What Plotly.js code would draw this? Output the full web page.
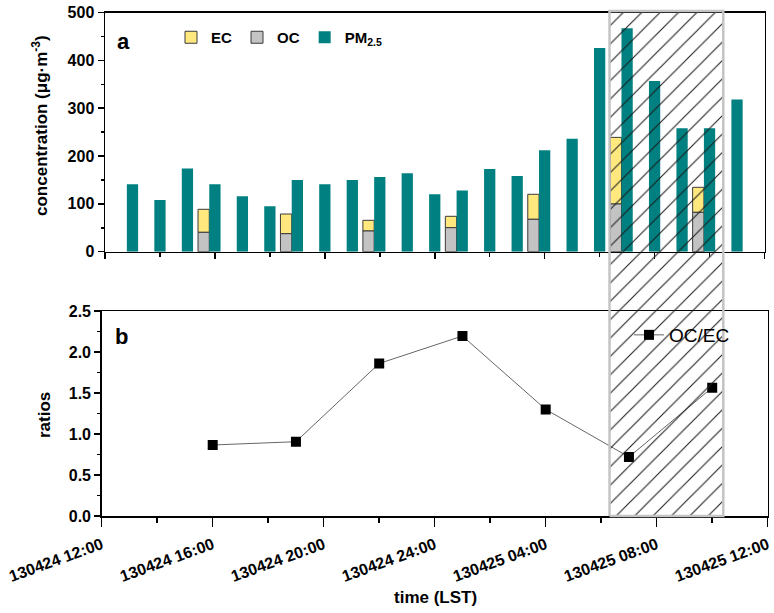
<!DOCTYPE html>
<html>
<head>
<meta charset="utf-8">
<script src="https://cdn.plot.ly/plotly-3.0.1.min.js"></script>
<style>html,body{margin:0;padding:0;background:#fff;}#chart{width:774px;height:613px;}</style>
</head>
<body>
<div id="chart"></div>
<script>
// hours counted from 130424 00:00
const pmHours = [13,14,15,16,17,18,19,20,21,22,23,24,25,26,27,28,29,30,31,32,33,34,35];
const pm25 = [141,108,174,141,116,95,150,141,150,156,164,120,128,173,158,212,236,426,467,357,258,258,318];
const sampleHours = [16,19,22,25,28,31,34];
const ocValues = [40.5,37.6,43.3,50.2,67.7,99.7,82.3];
const ecValues = [48.1,41.2,22.3,23.8,52.3,139.3,52.3];
const ratioOCEC = [0.866,0.906,1.86,2.195,1.30,0.72,1.565];
const tickHours = [12,16,20,24,28,32,36];
const tickLabels = ["130424 12:00","130424 16:00","130424 20:00","130424 24:00","130425 04:00","130425 08:00","130425 12:00"];
const highlightStart = 30.3, highlightEnd = 34.4;

const FONT = "Liberation Sans, Arial, sans-serif";
const W = 774, H = 613;
const px = v => v / W, py = v => 1 - v / H;
const barW = 0.41;

const traces = [
  {type:'bar', name:'EC', x:sampleHours, y:ecValues, base:ocValues, width:barW, offset:-1.5*barW,
   marker:{color:'#FFE97F', line:{color:'#3a3a3a', width:1}}, xaxis:'x', yaxis:'y', hoverinfo:'skip'},
  {type:'bar', name:'OC', x:sampleHours, y:ocValues, width:barW, offset:-1.5*barW,
   marker:{color:'#C3C3C3', line:{color:'#3a3a3a', width:1}}, xaxis:'x', yaxis:'y', hoverinfo:'skip'},
  {type:'bar', name:'PM<sub>2.5</sub>', x:pmHours, y:pm25, width:barW, offset:-0.5*barW,
   marker:{color:'#008080', line:{width:0}}, xaxis:'x', yaxis:'y', hoverinfo:'skip'},
  {type:'scatter', mode:'lines+markers', name:'OC/EC', x:sampleHours, y:ratioOCEC,
   line:{color:'#666666', width:1}, marker:{symbol:'square', size:10, color:'#000'},
   xaxis:'x2', yaxis:'y2', legend:'legend2', hoverinfo:'skip'},
  {type:'scatter', mode:'lines', showlegend:false,
   x:[highlightStart, highlightEnd, highlightEnd, highlightStart, highlightStart], y:[0,0,1,1,0],
   fill:'toself', fillcolor:'rgba(0,0,0,0)',
   fillpattern:{shape:'/', size:13, solidity:0.08, fgcolor:'#1a1a1a', bgcolor:'rgba(0,0,0,0)'},
   line:{color:'#c4c4c4', width:2.5}, xaxis:'x3', yaxis:'y3', hoverinfo:'skip'}
];

const tickFont = {family:FONT, size:16, color:'#000', weight:'bold'};
const axBase = {showgrid:false, zeroline:false, showline:true, linecolor:'#000', linewidth:1.5,
  ticks:'outside', tickcolor:'#000', tickwidth:1.5, mirror:true, automargin:false, tickfont:tickFont};

const topDomX = [px(105), px(764.5)];
const botDomX = [px(101.7), px(767.7)];

const layout = {
  width:W, height:H, margin:{l:0,r:0,t:0,b:0},
  paper_bgcolor:'#fff', plot_bgcolor:'rgba(0,0,0,0)',
  barmode:'overlay', hovermode:false,
  xaxis:Object.assign({}, axBase, {domain:topDomX, range:[12,36], anchor:'y',
    tickmode:'array', tickvals:tickHours, ticklen:6, showticklabels:false,
    minor:{dtick:2, tick0:12, ticks:'outside', ticklen:4, tickcolor:'#000', tickwidth:1.5}}),
  yaxis:Object.assign({}, axBase, {domain:[py(251.7), py(12.5)], range:[0,500], anchor:'x',
    dtick:100, ticklen:6,
    minor:{dtick:50, ticks:'outside', ticklen:3, tickcolor:'#000', tickwidth:1.5}}),
  xaxis2:Object.assign({}, axBase, {domain:botDomX, range:[12,36], anchor:'y2',
    tickmode:'array', tickvals:tickHours, ticktext:tickLabels, tickangle:-20, ticklen:9,
    ticklabelstandoff:3,
    minor:{dtick:2, tick0:12, ticks:'outside', ticklen:5, tickcolor:'#000', tickwidth:1.5}}),
  yaxis2:Object.assign({}, axBase, {domain:[py(516), py(311)], range:[0,2.5], anchor:'x2',
    dtick:0.5, tickformat:'.1f', ticklen:6,
    minor:{dtick:0.25, ticks:'outside', ticklen:3, tickcolor:'#000', tickwidth:1.5}}),
  xaxis3:{domain:botDomX, range:[12,36], anchor:'y3', visible:false, fixedrange:true},
  yaxis3:{domain:[py(526.1), py(0.9)], range:[-0.02,1.02], anchor:'x3', visible:false, fixedrange:true},
  legend:{orientation:'h', x:px(171), y:py(37.5), xanchor:'left', yanchor:'middle',
    font:{family:FONT, size:15, color:'#000', weight:'bold'}, bgcolor:'rgba(0,0,0,0)', traceorder:'normal'},
  legend2:{x:px(629), y:py(335), xanchor:'left', yanchor:'middle',
    font:{family:FONT, size:19, color:'#000'}, bgcolor:'rgba(0,0,0,0)'},
  annotations:[
    {text:'a', xref:'paper', yref:'paper', x:px(123), y:py(41), xanchor:'center', yanchor:'middle', showarrow:false,
     font:{family:FONT, size:22, color:'#000', weight:'bold'}},
    {text:'b', xref:'paper', yref:'paper', x:px(121), y:py(336), xanchor:'center', yanchor:'middle', showarrow:false,
     font:{family:FONT, size:22, color:'#000', weight:'bold'}},
    {text:'concentration (μg·m<sup>-3</sup>)', xref:'paper', yref:'paper', x:px(40), y:py(126),
     xanchor:'center', yanchor:'middle',
     textangle:-90, showarrow:false, font:{family:FONT, size:17, color:'#000', weight:'bold'}},
    {text:'ratios', xref:'paper', yref:'paper', x:px(44), y:py(415), xanchor:'center', yanchor:'middle',
     textangle:-90, showarrow:false, font:{family:FONT, size:17, color:'#000', weight:'bold'}},
    {text:'time (LST)', xref:'paper', yref:'paper', x:px(435), y:py(597), xanchor:'center', yanchor:'middle',
     showarrow:false, font:{family:FONT, size:17, color:'#000', weight:'bold'}}
  ]
};

Plotly.newPlot('chart', traces, layout, {staticPlot:true, displayModeBar:false});
</script>
</body>
</html>
